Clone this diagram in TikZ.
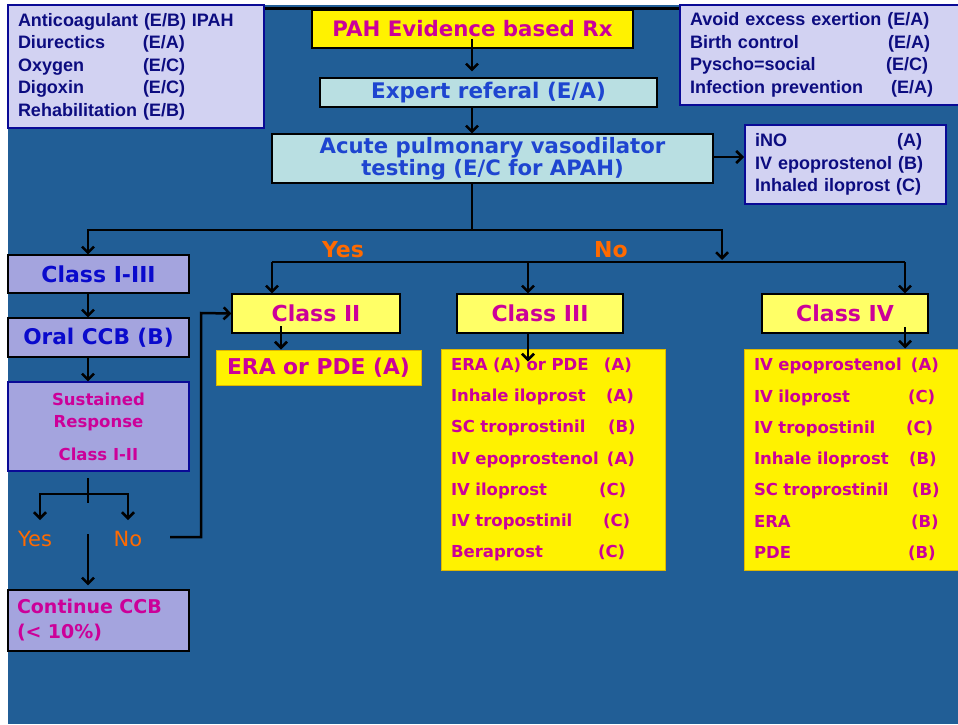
\documentclass[tikz,border=0pt]{standalone}
\usepackage{fontspec}
\setmainfont{Liberation Sans}
\newfontfamily\verd{DejaVu Sans}
\usetikzlibrary{positioning,arrows.meta}
\definecolor{slideblue}{HTML}{215E96}
\definecolor{notefill}{HTML}{D2D2F2}
\definecolor{noteline}{HTML}{0A0A96}
\definecolor{notetext}{HTML}{0C0C80}
\definecolor{classfill}{HTML}{A4A4DE}
\definecolor{testfill}{HTML}{B9DFE2}
\definecolor{testtext}{HTML}{1E45D0}
\definecolor{darkblue}{HTML}{0A0ACC}
\definecolor{rxmagenta}{HTML}{CC0099}
\definecolor{paleyellow}{HTML}{FFFF66}
\definecolor{goldline}{HTML}{E0B800}
\definecolor{answer}{HTML}{FF6A00}
\tikzset{
  note/.style={draw=noteline, line width=2pt, fill=notefill, text=notetext,
    font=\bfseries\fontsize{18}{22.5}\selectfont, align=left, inner sep=0pt},
  classbox/.style={draw=black, line width=1.2pt, fill=classfill, inner sep=0pt},
  testbox/.style={draw=black, line width=1.2pt, fill=testfill, text=testtext, inner sep=0pt},
  gradebox/.style={draw=black, line width=1.2pt, fill=paleyellow, text=rxmagenta,
    font=\verd\bfseries\fontsize{22}{24}\selectfont, minimum width=168pt, minimum height=39pt, inner sep=0pt},
  druglist/.style={draw=goldline, line width=1pt, fill=yellow, text=rxmagenta,
    font=\verd\bfseries\fontsize{16.5}{31.3}\selectfont, align=left, inner sep=0pt},
  answer/.style={text=answer, inner sep=0pt},
}
\begin{document}
\begin{tikzpicture}[x=1pt, y=-1pt, line width=2.5pt, >={Straight Barb[length=6pt,width=12pt]}]
\useasboundingbox (0,0) rectangle (958,724);
\fill[white] (0,0) rectangle (958,724);
\fill[slideblue] (8,5) rectangle (958,724);
\draw[line width=3pt] (264,8) -- (680,8);

% general measures
\node[note, minimum width=256pt, minimum height=123pt, text width=236pt] (general) at (136,66.5)
  {Anticoagulant (E/B) IPAH\\
   \makebox[125pt][l]{Diurectics}(E/A)\\
   \makebox[125pt][l]{Oxygen}(E/C)\\
   \makebox[125pt][l]{Digoxin}(E/C)\\
   Rehabilitation (E/B)};
\node[note, minimum width=290pt, minimum height=100pt, text width=270pt] (advice) at (825,55)
  {Avoid excess exertion (E/A)\\
   \makebox[198pt][l]{Birth control}(E/A)\\
   \makebox[196pt][l]{Pyscho=social}(E/C)\\
   \makebox[201pt][l]{Infection prevention}(E/A)};

% main column
\node[draw=black, line width=1.2pt, fill=yellow, text=rxmagenta, minimum width=321pt, minimum height=38pt,
  font=\verd\bfseries\fontsize{21.3}{24}\selectfont] (title) at (472.5,29) {PAH Evidence based Rx};
\node[testbox, minimum width=337pt, minimum height=29pt, font=\verd\bfseries\fontsize{21.5}{22}\selectfont]
  (referal) at (488.5,92.5) {Expert referal (E/A)};
\node[testbox, minimum width=441pt, minimum height=49pt, align=center,
  font=\verd\bfseries\fontsize{21.2}{20}\selectfont] (acute) at (492.5,158.5)
  {Acute pulmonary vasodilator\\testing (E/C for APAH)};
\node[note, minimum width=201pt, minimum height=79pt, text width=181pt] (ino) at (845.5,164.5)
  {\makebox[142pt][l]{iNO}(A)\\
   IV epoprostenol (B)\\
   Inhaled iloprost (C)};

% responders
\node[classbox, minimum width=181pt, minimum height=38pt, text=darkblue,
  font=\verd\bfseries\fontsize{22}{24}\selectfont] (classA) at (98.5,274) {Class I-III};
\node[classbox, minimum width=181pt, minimum height=39pt, text=darkblue,
  font=\verd\bfseries\fontsize{21.6}{24}\selectfont] (ccb) at (98.5,337.5) {Oral CCB (B)};
\node[classbox, draw=noteline, minimum width=181pt, minimum height=89pt, text=rxmagenta, align=center,
  font=\verd\bfseries\fontsize{16.5}{22}\selectfont] (sustained) at (98.5,426.5)
  {Sustained\\Response\\[11pt]Class I-II};
\node[answer, font=\verd\fontsize{21}{24}\selectfont] (yesB) at (35,539) {Yes};
\node[answer, font=\verd\fontsize{21}{24}\selectfont] (noB) at (128,539) {No};
\node[classbox, minimum width=181pt, minimum height=61pt, text width=163pt, text=rxmagenta, align=left,
  font=\verd\bfseries\fontsize{19}{25}\selectfont] (continue) at (98.5,620.5)
  {Continue CCB\\(< 10\%)};

% non responders
\node[answer, font=\verd\bfseries\fontsize{22}{24}\selectfont] (yesA) at (343,250) {Yes};
\node[answer, font=\verd\bfseries\fontsize{22}{24}\selectfont] (noA) at (611,250) {No};
\node[gradebox] (classII) at (316,313.5) {Class II};
\node[gradebox, minimum width=166pt] (classIII) at (540,313.5) {Class III};
\node[gradebox, minimum width=166pt] (classIV) at (845,313.5) {Class IV};
\node[druglist, fill=yellow, minimum width=205pt, minimum height=35pt,
  font=\verd\bfseries\fontsize{21.8}{24}\selectfont] (era) at (318.5,367.5) {ERA or PDE (A)};
\node[druglist, minimum width=224pt, minimum height=221pt, text width=204pt] (listIII) at (553,459.5)
  {\makebox[153pt][l]{ERA (A) or PDE}(A)\\
   \makebox[155pt][l]{Inhale iloprost}(A)\\
   \makebox[157pt][l]{SC troprostinil}(B)\\
   \makebox[156pt][l]{IV epoprostenol}(A)\\
   \makebox[148pt][l]{IV iloprost}(C)\\
   \makebox[152pt][l]{IV tropostinil}(C)\\
   \makebox[147pt][l]{Beraprost}(C)};
\node[druglist, minimum width=224pt, minimum height=221pt, text width=204pt] (listIV) at (856,459.5)
  {\makebox[157pt][l]{IV epoprostenol}(A)\\
   \makebox[154pt][l]{IV iloprost}(C)\\
   \makebox[152pt][l]{IV tropostinil}(C)\\
   \makebox[155pt][l]{Inhale iloprost}(B)\\
   \makebox[158pt][l]{SC troprostinil}(B)\\
   \makebox[157pt][l]{ERA}(B)\\
   \makebox[154pt][l]{PDE}(B)};

% connectors
\coordinate (colM) at (472,0);
\coordinate (forkA) at (472,230);
\coordinate (noDrop) at (722,230);
\coordinate (barL) at (272,262);
\coordinate (barR) at (905,262);
\coordinate (colL) at (88,0);
\coordinate (sTop) at (88,478);
\coordinate (sBar) at (88,494);
\coordinate (sBot) at (88,503);
\coordinate (sYes) at (40,520);
\coordinate (sNo) at (128,520);
\coordinate (cTop) at (88,534);
\coordinate (noEnd) at (170,537);
\coordinate (jog) at (201,313);
\coordinate (c2) at (281,326);
\coordinate (c3) at (528,333);
\coordinate (c4) at (905,327);

\draw[->] ([yshift=10pt]title.south -| colM) -- ([yshift=6pt]referal.north -| colM);
\draw[->] (referal.south -| colM) -- (acute.north -| colM);
\draw[->] (acute.east |- 0,157) -- (ino.west |- 0,157);
\draw[->] (acute.south -| colM) -- (forkA) -| (classA.north -| colL);
\draw[->] (forkA) -| ([yshift=2pt]noDrop |- barR);
\draw (barL) -- (barR);
\draw[->] (barL) -- (barL |- classII.north);
\draw[->] (barL -| c3) -- (c3 |- classIII.north);
\draw[->] (barR) -- (barR |- classIV.north);
\draw[->] (classA.south -| colL) -- (ccb.north -| colL);
\draw[->] (ccb.south -| colL) -- (sustained.north -| colL);
\draw (sTop) -- (sBot);
\draw[->] (sBar) -| (sYes);
\draw[->] (sBar) -| (sNo);
\draw[->] (cTop) -- ([yshift=4pt]continue.north -| cTop);
\draw[->] (noEnd) -| (jog) -- (classII.west);
\draw[->] (c2) -- (c2 |- era.north);
\draw[->] (c3) -- ([yshift=-13pt]listIII.north -| c3);
\draw[->] (c4) -- (c4 |- listIV.north);
\end{tikzpicture}
\end{document}
